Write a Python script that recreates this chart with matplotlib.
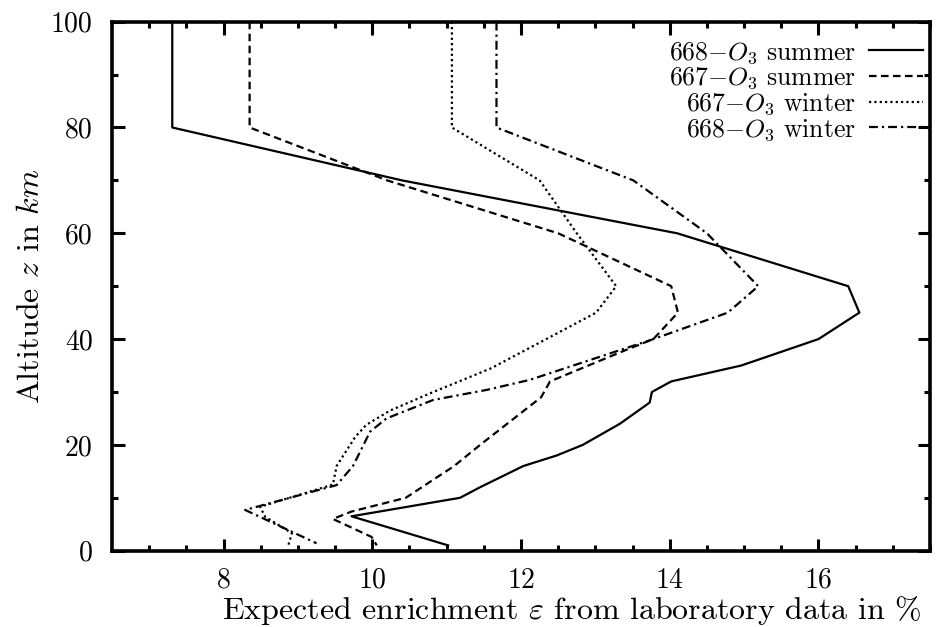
import matplotlib
matplotlib.use("Agg")
import matplotlib.pyplot as plt

plt.rcParams['font.family'] = ['cmr10', 'DejaVu Serif']
plt.rcParams['mathtext.fontset'] = 'cm'
plt.rcParams['axes.unicode_minus'] = False

# altitude profiles (enrichment in %, altitude in km)
z_668_summer = [100, 80, 70, 60, 50, 45, 40, 35, 32, 30, 28, 24, 20, 18, 16, 12, 10, 6.5, 1]
e_668_summer = [7.31, 7.31, 10.4, 14.1, 16.4, 16.55, 16.0, 14.96, 14.02, 13.76, 13.73,
                13.33, 12.83, 12.48, 12.03, 11.45, 11.18, 9.72, 11.02]

z_667_summer = [100, 80, 70, 60, 50, 45, 40, 38, 32, 29, 20, 16, 10, 7.4, 6, 2.6, 1]
e_667_summer = [8.35, 8.35, 10.2, 12.5, 14.02, 14.11, 13.78, 13.42, 12.39, 12.27,
                11.45, 11.1, 10.45, 9.72, 9.47, 9.99, 10.06]

z_667_winter = [100, 80, 70, 60, 50, 45, 34.5, 30, 26.5, 23.8, 21.5, 16, 12.5, 8.3, 6.4, 3.3, 1]
e_667_winter = [11.07, 11.07, 12.25, 12.75, 13.28, 13.01, 11.6, 10.82, 10.24, 9.92, 9.77,
                9.52, 9.47, 8.49, 8.56, 8.92, 8.87]

z_668_winter = [100, 80, 70, 60, 50, 45, 40, 32.3, 30.4, 28.5, 25, 22.5, 16, 12.4, 7.7, 1.4]
e_668_winter = [11.67, 11.67, 13.51, 14.5, 15.19, 14.78, 13.78, 12.12, 11.54, 10.82, 10.19,
                9.97, 9.74, 9.52, 8.29, 9.25]

labels = ['668$-O_3$ summer', '667$-O_3$ summer', '667$-O_3$ winter', '668$-O_3$ winter']

x_ticks = [8, 10, 12, 14, 16]
y_ticks = [0, 20, 40, 60, 80, 100]

fig = plt.figure(figsize=(9.36, 6.27), dpi=100)
ax = fig.add_axes([0.1197, 0.1217, 0.8739, 0.8437])

lw = 1.6
ax.plot(e_668_summer, z_668_summer, color='black', lw=lw, label=labels[0])
ax.plot(e_667_summer, z_667_summer, color='black', lw=lw, dashes=(3.4, 2.0), label=labels[1])
ax.plot(e_667_winter, z_667_winter, color='black', lw=lw, dashes=(1.0, 1.4), label=labels[2])
ax.plot(e_668_winter, z_668_winter, color='black', lw=lw, dashes=(4.0, 1.8, 1.0, 1.8), label=labels[3])

ax.set_xlim(6.5, 17.5)
ax.set_ylim(0, 100)
ax.set_xticks(x_ticks)
ax.set_xticklabels([str(t) for t in x_ticks])
ax.set_yticks(y_ticks)
ax.set_yticklabels([str(t) for t in y_ticks])
ax.set_xticks([x / 2 for x in range(14, 36)], minor=True)
ax.set_yticks(list(range(10, 100, 20)), minor=True)

ax.tick_params(which='both', direction='in', top=True, right=True, labelsize=20)
ax.tick_params(axis='x', pad=12)
ax.tick_params(axis='y', pad=14)
ax.tick_params(which='major', length=9, width=2.2)
ax.tick_params(which='minor', length=4.5, width=2.2)
for sp in ax.spines.values():
    sp.set_linewidth(2.6)

ax.set_xlabel(r'Expected enrichment $\varepsilon$ from laboratory data in %', fontsize=23)
ax.xaxis.set_label_coords(0.562, -0.081)
ax.set_ylabel(r'Altitude $z$ in $km$', fontsize=23, labelpad=4)

leg = ax.legend(loc='upper right', bbox_to_anchor=(1.016, 1.004), frameon=False,
                markerfirst=False, fontsize=18.5, handlelength=2.1, handletextpad=0.5,
                labelspacing=0.0, borderpad=0.3)

fig.savefig('out.png', dpi=100)
